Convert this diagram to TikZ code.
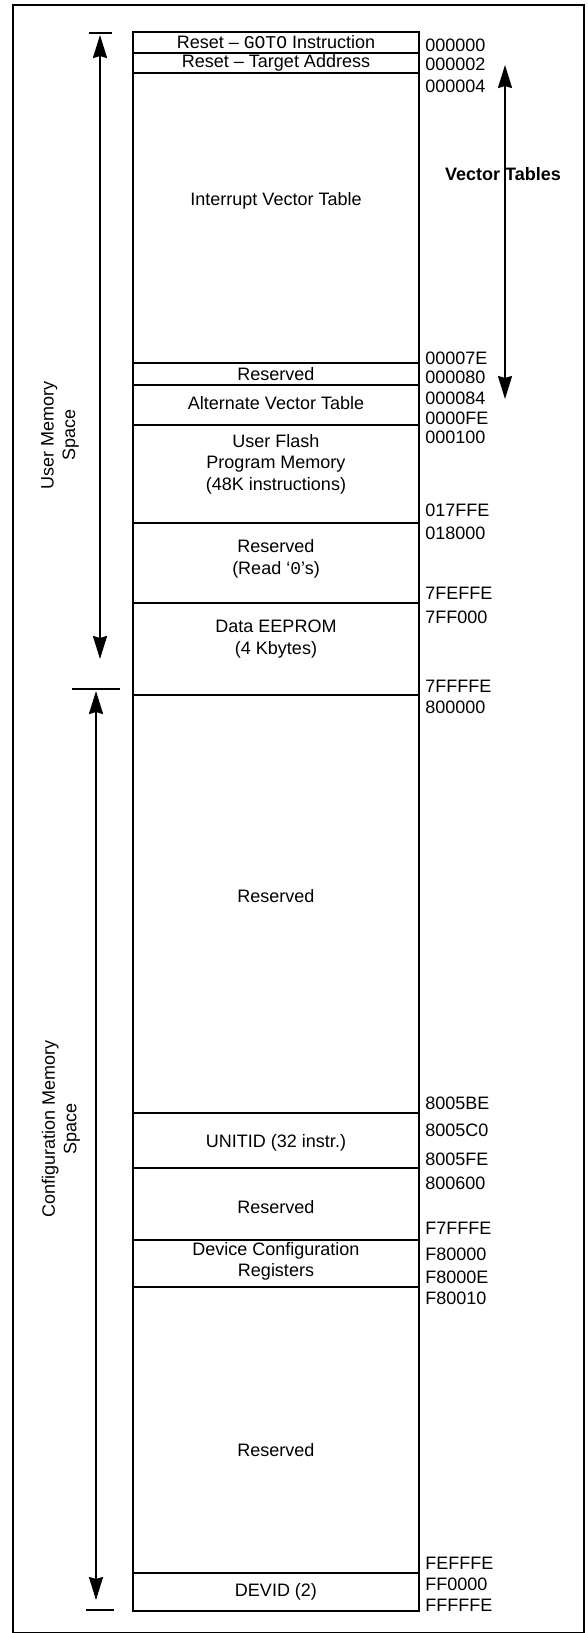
\documentclass[tikz,border=0pt]{standalone}
\usepackage{fontspec}
\setmainfont{Liberation Sans}
\setmonofont{Liberation Mono}
\usepackage{tikz}
\usetikzlibrary{arrows.meta, positioning, calc}
\tikzstyle{region} = [rectangle, draw=black, line width=1.1pt, minimum width=143pt, inner sep=0pt, outer sep=0pt]
\tikzstyle{txt} = [align=center, inner sep=0pt]
\tikzstyle{addr} = [anchor=west, inner sep=0pt]
\tikzstyle{arrow} = [line width=1.1pt,<->,>={Stealth[length=11.5pt,width=7pt,inset=1pt]}]
\tikzstyle{bar} = [line width=1.1pt]

\begin{document}
\begin{tikzpicture}[x=0.5pt, y=-0.5pt, font=\fontsize{9}{10.8}\selectfont]
		\useasboundingbox (0,0) rectangle (588,1633);
		\draw[line width=1.1pt] (13,5) rectangle (584,1633);
		
		% memory regions
		\node (rgoto) [region, minimum height=10.5pt, anchor=north] at (276,32) {};
		\node (rtarget) [region, minimum height=10pt, below=0pt of rgoto] {};
		\node (rivt) [region, minimum height=145pt, below=0pt of rtarget] {};
		\node (rres1) [region, minimum height=11pt, below=0pt of rivt] {};
		\node (ralt) [region, minimum height=20pt, below=0pt of rres1] {};
		\node (rflash) [region, minimum height=49pt, below=0pt of ralt] {};
		\node (rres2) [region, minimum height=40pt, below=0pt of rflash] {};
		\node (reeprom) [region, minimum height=46pt, below=0pt of rres2] {};
		\node (rres3) [region, minimum height=209pt, below=0pt of reeprom] {};
		\node (runitid) [region, minimum height=27.5pt, below=0pt of rres3] {};
		\node (rres4) [region, minimum height=36pt, below=0pt of runitid] {};
		\node (rdcr) [region, minimum height=23.5pt, below=0pt of rres4] {};
		\node (rres5) [region, minimum height=143pt, below=0pt of rdcr] {};
		\node (rdevid) [region, minimum height=19pt, below=0pt of rres5] {};
		
		% region texts
		\node (tgoto) [txt] at (rgoto) {Reset – \texttt{GOTO} Instruction};
		\node (ttarget) [txt] at (rtarget) {Reset – Target Address};
		\node (tivt) [txt, yshift=8.5pt] at (rivt) {Interrupt Vector Table};
		\node (tres1) [txt] at (rres1) {Reserved};
		\node (talt) [txt, yshift=1pt] at (ralt) {Alternate Vector Table};
		\node (tflash) [txt, yshift=5pt] at (rflash) {User Flash\\Program Memory\\(48K instructions)};
		\node (tres2) [txt, yshift=2pt] at (rres2) {Reserved\\(Read ‘\texttt{0}’s)};
		\node (teeprom) [txt, yshift=5pt] at (reeprom) {Data EEPROM\\(4 Kbytes)};
		\node (tres3) [txt, yshift=4pt] at (rres3) {Reserved};
		\node (tunitid) [txt, yshift=-1pt] at (runitid) {UNITID (32 instr.)};
		\node (tres4) [txt, yshift=-1.5pt] at (rres4) {Reserved};
		\node (tdcr) [txt, yshift=1pt] at (rdcr) {Device Configuration\\Registers};
		\node (tres5) [txt, yshift=-10pt] at (rres5) {Reserved};
		\node (tdevid) [txt] at (rdevid) {DEVID (2)};
		
		% addresses
		\node (a000000) [addr] at (425,45) {000000};
		\node (a000002) [addr] at (425,64) {000002};
		\node (a000004) [addr] at (425,86) {000004};
		\node (a00007E) [addr] at (425,358) {00007E};
		\node (a000080) [addr] at (425,377) {000080};
		\node (a000084) [addr] at (425,398) {000084};
		\node (a0000FE) [addr] at (425,418) {0000FE};
		\node (a000100) [addr] at (425,437) {000100};
		\node (a017FFE) [addr] at (425,510) {017FFE};
		\node (a018000) [addr] at (425,533) {018000};
		\node (a7FEFFE) [addr] at (425,593) {7FEFFE};
		\node (a7FF000) [addr] at (425,617) {7FF000};
		\node (a7FFFFE) [addr] at (425,686) {7FFFFE};
		\node (a800000) [addr] at (425,707) {800000};
		\node (a8005BE) [addr] at (425,1103) {8005BE};
		\node (a8005C0) [addr] at (425,1130) {8005C0};
		\node (a8005FE) [addr] at (425,1159) {8005FE};
		\node (a800600) [addr] at (425,1183) {800600};
		\node (aF7FFFE) [addr] at (425,1228) {F7FFFE};
		\node (aF80000) [addr] at (425,1254) {F80000};
		\node (aF8000E) [addr] at (425,1277) {F8000E};
		\node (aF80010) [addr] at (425,1298) {F80010};
		\node (aFEFFFE) [addr] at (425,1563) {FEFFFE};
		\node (aFF0000) [addr] at (425,1584) {FF0000};
		\node (aFFFFFE) [addr] at (425,1605) {FFFFFE};
		
		% side labels
		\node (umlabel) [txt, rotate=90] at (60,435) {User Memory\\Space};
		\node (cmlabel) [txt, rotate=90] at (61,1129) {Configuration Memory\\Space};
		\node (vtlabel) [txt] at (503,174) {\textbf{Vector Tables}};
		
		% arrow ends and bars
		\coordinate (umtop) at (100,35);
		\coordinate (umbot) at (100,659);
		\coordinate (umbarl) at (89,33);
		\coordinate (umbarr) at (112,33);
		\coordinate (cmtop) at (96,691);
		\coordinate (cmbot) at (96,1600);
		\coordinate (cmbarl) at (72,689);
		\coordinate (cmbarr) at (120,689);
		\coordinate (cmendl) at (86,1610);
		\coordinate (cmendr) at (114,1610);
		\coordinate (vttop) at (505,65);
		\coordinate (vtbot) at (505,399);
		
		\draw [bar] (umbarl) -- (umbarr);
		\draw [arrow] (umtop) -- (umbot);
		\draw [bar] (cmbarl) -- (cmbarr);
		\draw [arrow] (cmtop) -- (cmbot);
		\draw [bar] (cmendl) -- (cmendr);
		\draw [arrow] (vttop) -- (vtbot);
\end{tikzpicture}
\end{document}
